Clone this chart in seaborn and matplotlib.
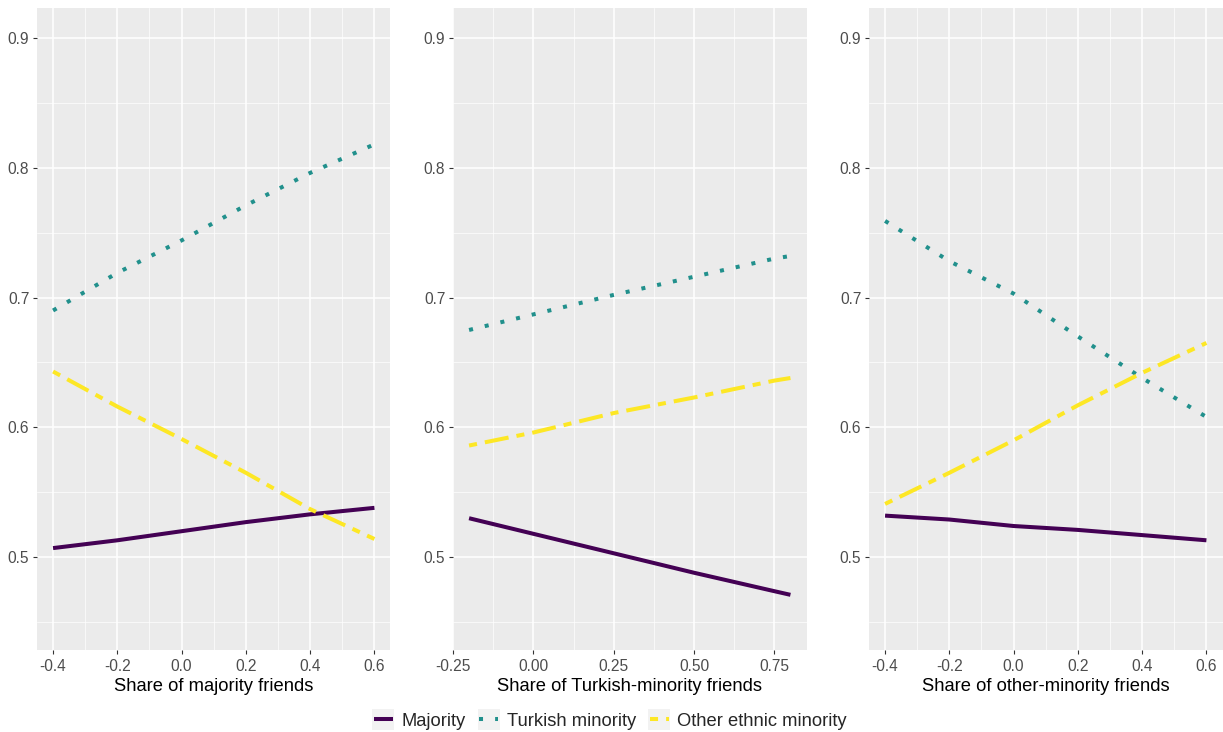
import numpy as np
import pandas as pd
import seaborn as sns
import matplotlib
matplotlib.use("Agg")
import matplotlib.pyplot as plt
from matplotlib.lines import Line2D
from matplotlib.patches import Rectangle
from matplotlib.legend_handler import HandlerLine2D
from matplotlib.ticker import FixedLocator, AutoMinorLocator, FormatStrFormatter

# ---------------- data ----------------
groups = ["Majority", "Turkish minority", "Other ethnic minority"]
xlabels = ["Share of majority friends", "Share of Turkish-minority friends",
           "Share of other-minority friends"]

x1 = [-0.4, -0.2, 0.0, 0.2, 0.4, 0.6]
maj1 = [0.507, 0.513, 0.520, 0.527, 0.533, 0.538]
tur1 = [0.690, 0.719, 0.744, 0.771, 0.796, 0.818]
oth1 = [0.643, 0.616, 0.591, 0.565, 0.537, 0.514]

x2 = [-0.2, 0.0, 0.25, 0.5, 0.75, 0.8]
maj2 = [0.530, 0.518, 0.503, 0.488, 0.4738, 0.471]
tur2 = [0.675, 0.687, 0.702, 0.716, 0.730, 0.732]
oth2 = [0.586, 0.596, 0.611, 0.623, 0.636, 0.638]

x3 = [-0.4, -0.2, 0.0, 0.2, 0.4, 0.6]
maj3 = [0.532, 0.529, 0.524, 0.521, 0.517, 0.513]
tur3 = [0.759, 0.728, 0.703, 0.670, 0.638, 0.608]
oth3 = [0.541, 0.565, 0.590, 0.617, 0.642, 0.665]

xticks1 = [-0.4, -0.2, 0.0, 0.2, 0.4, 0.6]
xticks2 = [-0.25, 0.0, 0.25, 0.5, 0.75]
xticks3 = [-0.4, -0.2, 0.0, 0.2, 0.4, 0.6]
yticks = [0.5, 0.6, 0.7, 0.8, 0.9]

panels = [
    (x1, [maj1, tur1, oth1], xticks1, "%.1f", (-0.45, 0.65)),
    (x2, [maj2, tur2, oth2], xticks2, "%.2f", (-0.25, 0.85)),
    (x3, [maj3, tur3, oth3], xticks3, "%.1f", (-0.45, 0.65)),
]

# ---------------- style ----------------
sns.set_theme(style="darkgrid")
plt.rcParams["font.family"] = ["Liberation Sans", "DejaVu Sans"]
plt.rcParams["axes.unicode_minus"] = False

palette = {"Majority": "#440154", "Turkish minority": "#21908C",
           "Other ethnic minority": "#FDE725"}
dashes = {"Majority": "", "Turkish minority": (1, 3),
          "Other ethnic minority": (2, 2, 6, 2)}
LW = 2.9

W, H = 1223, 732
fig = plt.figure(figsize=(W / 100, H / 100), dpi=100)
fig.patch.set_facecolor("white")

lefts = [37, 453, 869]
pw = 353.5
top, bottom = 8, 650

for i, (xs, ys, xt, fmt, xlim) in enumerate(panels):
    ax = fig.add_axes([lefts[i] / W, 1 - bottom / H, pw / W, (bottom - top) / H])
    rows = []
    for g, yv in zip(groups, ys):
        for xv, v in zip(xs, yv):
            rows.append({"x": xv, "y": v, "group": g})
    df = pd.DataFrame(rows)
    sns.lineplot(data=df, x="x", y="y", hue="group", style="group",
                 hue_order=groups, style_order=groups, palette=palette,
                 dashes=dashes, linewidth=LW, estimator=None, legend=False,
                 ax=ax)
    for ln in ax.get_lines():
        ln.set_dash_capstyle("butt")
        ln.set_solid_capstyle("butt")
    ax.set_facecolor("#EBEBEB")
    ax.set_xlim(*xlim)
    ax.set_ylim(0.4285, 0.923)
    ax.xaxis.set_major_locator(FixedLocator(xt))
    ax.xaxis.set_major_formatter(FormatStrFormatter(fmt))
    ax.xaxis.set_minor_locator(AutoMinorLocator(2))
    ax.yaxis.set_major_locator(FixedLocator(yticks))
    ax.yaxis.set_major_formatter(FormatStrFormatter("%.1f"))
    ax.yaxis.set_minor_locator(AutoMinorLocator(2))
    ax.grid(which="major", color="white", linewidth=1.1)
    ax.grid(which="minor", color="white", linewidth=0.5)
    for s in ax.spines.values():
        s.set_visible(False)
    ax.tick_params(which="major", length=3, width=0.8, color="#333333",
                   labelcolor="#4D4D4D", labelsize=11.2, pad=2.5,
                   bottom=True, left=True)
    ax.tick_params(axis="x", which="major", pad=3.5)
    ax.tick_params(which="minor", length=0)
    ax.set_xlabel(xlabels[i], fontsize=13.2, color="black", labelpad=3)
    ax.set_ylabel("")


class KeyHandler(HandlerLine2D):
    def create_artists(self, legend, orig_handle, xdescent, ydescent,
                       width, height, fontsize, trans):
        bg = Rectangle((-xdescent - 1, -ydescent - 0.35 * height), width + 2, height * 1.6,
                       facecolor="#F2F2F2", edgecolor="none", transform=trans)
        arts = super().create_artists(legend, orig_handle, xdescent, ydescent,
                                      width, height, fontsize, trans)
        return [bg] + list(arts)


handles = []
for g in groups:
    ls = "-" if dashes[g] == "" else (0, dashes[g])
    handles.append(Line2D([0], [0], color=palette[g], lw=LW, linestyle=ls,
                          dash_capstyle="butt", solid_capstyle="butt"))

fig.legend(handles, groups, loc="center", bbox_to_anchor=(0.499, 1 - 721 / H),
           ncol=3, frameon=False, fontsize=13.2, handlelength=1.05,
           handletextpad=0.45, columnspacing=0.75,
           handler_map={Line2D: KeyHandler()})

fig.savefig("out.png", dpi=100, facecolor="white")
